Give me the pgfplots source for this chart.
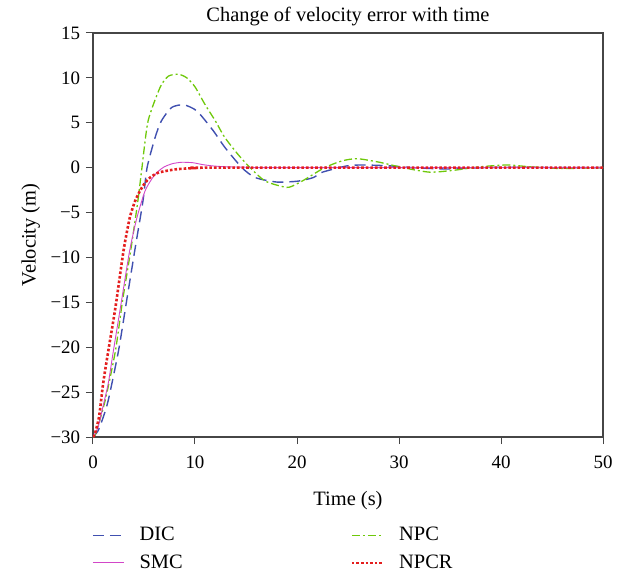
\documentclass[border=0pt]{standalone}
\usepackage{pgfplots}
\pgfplotsset{compat=1.18}
\usepackage{fontspec}
\setmainfont{Liberation Serif}
\definecolor{cdic}{RGB}{64,80,176}
\definecolor{cnpc}{RGB}{110,200,10}
\definecolor{csmc}{RGB}{210,70,200}
\definecolor{cnpcr}{RGB}{228,30,30}
\definecolor{caxis}{RGB}{70,70,70}
\begin{document}
\fontsize{20}{24}\selectfont
\begin{tikzpicture}
\begin{axis}[
  scale only axis, width=510bp, height=404bp,
  xmin=0, xmax=50, ymin=-30, ymax=15,
  xtick={0,10,20,30,40,50},
  ytick={-30,-25,-20,-15,-10,-5,0,5,10,15},
  yticklabels={−30,−25,−20,−15,−10,−5,0,5,10,15},
  tick align=outside, tick pos=left,
  major tick length=7bp,
  axis line style={caxis, line width=1.2bp},
  every tick/.style={caxis, line width=1bp},
  /pgf/number format/assume math mode=true,
  tick label style={font=\fontsize{19}{22}\selectfont},
  xticklabel style={yshift=-5bp},
  yticklabel style={xshift=1bp},
  label style={font=\fontsize{20.5}{24}\selectfont},
  title style={font=\fontsize{20.5}{24}\selectfont, yshift=-6bp},
  title={Change of velocity error with time},
  xlabel={Time (s)}, ylabel={Velocity (m)},
  xlabel style={yshift=-9bp},
  ylabel style={yshift=-3bp},
  legend columns=2,
  legend style={draw=none, fill=none, at={(rel axis cs:0,0)}, anchor=north west, yshift=-86bp, xshift=-4bp,
    font=\fontsize{20.5}{24}\selectfont, row sep=7bp, cells={anchor=west}},
  legend image code/.code={\draw[#1] (0bp,0bp) -- (31bp,0bp);},
]
\addplot[cdic, line width=1.4bp, dash pattern=on 11bp off 6bp, smooth, tension=0.4] coordinates {
(0,-30) (0.5,-29.3) (1.0,-27.8) (1.5,-25.9) (2.5,-20.4) (3.3,-14.8) (4.1,-9.2) (4.9,-3.7) (5.3,0)
(6.1,3.4) (6.7,5.2) (7.7,6.7) (8.9,7.0) (10.2,6.3) (11.8,4.1) (12.9,2.3) (14.6,0) (15.9,-1.1)
(18,-1.6) (20.1,-1.5) (21.6,-1.1) (22.5,-0.5) (24.9,0.2) (26.5,0.3) (29.1,0.2) (31.4,0)
(34.7,-0.15) (38,0) (42,0.05) (46,0) (50,0)};
\addlegendentry{\makebox[222bp][l]{\hspace{13bp}DIC}}
\addplot[cnpc, line width=1.3bp, dash pattern=on 8bp off 3bp on 2bp off 3bp, smooth, tension=0.4] coordinates {
(0,-30) (0.3,-29.5) (1.2,-25.9) (2.2,-20.4) (2.9,-14.8) (3.7,-9.2) (4.4,-3.7) (4.8,0) (5.4,5.2)
(6.6,9.0) (7.4,10.2) (8.4,10.4) (9.2,10.0) (10.0,9.0) (11.0,7.0) (12.0,5.2) (12.9,3.4) (14.2,1.5)
(15.4,0) (16.9,-1.5) (19,-2.2) (20.0,-1.8) (20.8,-1.3) (22.7,0) (24.4,0.75) (25.9,1.0) (28.1,0.6)
(30.4,0) (33,-0.5) (35.3,-0.3) (38,0.1) (40.6,0.3) (42.8,0.1) (46,-0.1) (49.3,0) (50,0)};
\addlegendentry{\hspace{13bp}NPC}
\addplot[csmc, line width=0.9bp, smooth, tension=0.4] coordinates {
(0,-30) (0.5,-28.9) (1.0,-26.5) (1.5,-24) (2.0,-20.4) (2.8,-14.8) (3.6,-9.2) (4.3,-5.6) (5.1,-2.6)
(5.8,-1.2) (6.4,-0.4) (7.0,0.1) (7.8,0.45) (8.7,0.6) (9.8,0.55) (10.7,0.35) (11.7,0.2) (13,0.1)
(15,0.05) (18,0) (50,0)};
\addlegendentry{\makebox[222bp][l]{\hspace{13bp}SMC}}
\addplot[cnpcr, line width=2.6bp, dash pattern=on 2.6bp off 2bp, smooth, tension=0.4] coordinates {
(0,-30) (0.2,-29.6) (0.6,-27.7) (1.0,-24) (1.5,-20.4) (2.0,-17) (2.3,-14.8) (3.0,-9.2) (3.6,-5.6)
(4.1,-3.8) (4.6,-2.6) (5.1,-1.7) (5.6,-1.1) (6.3,-0.6) (7.0,-0.4) (8,-0.2) (9,-0.1) (10,-0.05)
(12,0) (50,0)};
\addlegendentry{\hspace{13bp}NPCR}
\coordinate (sw) at (rel axis cs:0,0);
\coordinate (ne) at (rel axis cs:1,1);
\end{axis}
\pgfresetboundingbox
\path ([shift={(-93bp,-137bp)}]sw) rectangle ([shift={(31bp,33bp)}]ne);
\end{tikzpicture}
\end{document}
